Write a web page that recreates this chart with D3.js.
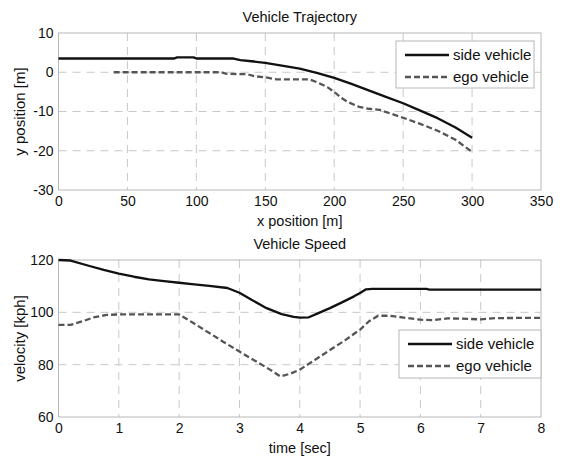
<!DOCTYPE html>
<html><head><meta charset="utf-8">
<script src="https://cdn.jsdelivr.net/npm/d3@7/dist/d3.min.js"></script>
<style>
body{margin:0;background:#fff;}
text{font-family:"Liberation Sans",Arial,sans-serif;fill:#111;}
</style></head>
<body><svg id="c" width="564" height="458"></svg>
<script>
// ---- Data: Vehicle Trajectory ----
const sideTrajX = [0, 84, 86, 98, 100, 127, 132, 140, 150, 162, 175, 188, 200, 212, 225, 237, 250, 262, 275, 288, 300];
const sideTrajY = [3.5, 3.5, 3.8, 3.8, 3.5, 3.5, 3.1, 2.8, 2.4, 1.7, 0.9, -0.2, -1.45, -2.9, -4.6, -6.2, -7.9, -9.7, -11.7, -14.1, -16.7];
const egoTrajX = [40, 118, 122, 137, 142, 150, 158, 182, 188, 195, 200, 205, 210, 218, 225, 233, 250, 262, 275, 288, 300];
const egoTrajY = [0, 0, -0.4, -0.5, -1.0, -1.3, -1.8, -1.8, -2.6, -3.8, -5.0, -6.5, -7.6, -8.8, -9.3, -9.6, -11.6, -13.1, -14.9, -17.2, -20.3];

// ---- Data: Vehicle Speed ----
const sideT = [0, 0.2, 0.5, 0.75, 1.0, 1.25, 1.5, 1.75, 2.0, 2.25, 2.5, 2.8, 3.0, 3.2, 3.45, 3.7, 3.9, 4.0, 4.15, 4.3, 4.5, 4.7, 4.9, 5.0, 5.1, 5.2, 6.1, 6.15, 8.0];
const sideV = [120, 119.8, 117.8, 116.2, 114.8, 113.6, 112.6, 111.9, 111.3, 110.7, 110.1, 109.3, 107.5, 104.8, 101.6, 99.3, 98.3, 98.0, 98.1, 99.6, 101.6, 103.8, 106.1, 107.4, 108.8, 109.0, 109.0, 108.7, 108.7];
const egoT = [0, 0.2, 0.4, 0.6, 0.8, 1.0, 1.5, 2.0, 2.25, 2.5, 2.75, 3.0, 3.25, 3.5, 3.68, 3.85, 4.0, 4.25, 4.5, 4.75, 5.0, 5.15, 5.3, 5.5, 5.75, 6.0, 6.2, 6.45, 6.8, 7.0, 7.25, 8.0];
const egoV = [95.2, 95.2, 96.6, 98.2, 99.0, 99.2, 99.2, 99.2, 95.7, 92.1, 88.5, 85.0, 81.6, 78.2, 75.5, 76.6, 78.1, 81.8, 85.6, 89.3, 93.4, 96.6, 98.7, 98.7, 97.9, 97.2, 97.0, 97.7, 97.5, 97.3, 97.8, 97.9];

// ---- Axis ticks / labels ----
const trajXTicks = [0, 50, 100, 150, 200, 250, 300, 350];
const trajYTicks = [10, 0, -10, -20, -30];
const speedXTicks = [0, 1, 2, 3, 4, 5, 6, 7, 8];
const speedYTicks = [120, 100, 80, 60];
const seriesNames = ["side vehicle", "ego vehicle"];

const svg = d3.select("#c");
const L = 58.5, R = 541;
const FONT = '"Liberation Sans",Arial,sans-serif';

function panel(opt){
  const x = d3.scaleLinear().domain(opt.xDomain).range([L, R]);
  const y = d3.scaleLinear().domain(opt.yDomain).range([opt.bottom, opt.top]);
  const g = svg.append("g");
  // grid
  g.selectAll(".gx").data(opt.xTicks.slice(1, -1)).join("line")
    .attr("x1", d => x(d)).attr("x2", d => x(d)).attr("y1", opt.top).attr("y2", opt.bottom)
    .attr("stroke", "#c8c8c8").attr("stroke-width", 1).attr("stroke-dasharray", "8,6");
  g.selectAll(".gy").data(opt.yTicks.filter(d => d !== opt.yDomain[0] && d !== opt.yDomain[1])).join("line")
    .attr("y1", d => y(d)).attr("y2", d => y(d)).attr("x1", L).attr("x2", R)
    .attr("stroke", "#c8c8c8").attr("stroke-width", 1).attr("stroke-dasharray", "8,6");
  // frame
  g.append("rect").attr("x", L).attr("y", opt.top).attr("width", R - L).attr("height", opt.bottom - opt.top)
    .attr("fill", "none").attr("stroke", "#b8b8b8").attr("stroke-width", 1);
  // axes labels via d3 axes
  const ax = d3.axisBottom(x).tickValues(opt.xTicks).tickSize(0).tickPadding(6).tickFormat(d => String(d));
  const axg = g.append("g").attr("transform", `translate(0,${opt.bottom})`).call(ax);
  axg.select(".domain").remove();
  axg.selectAll("text").attr("font-size", 14).style("font-family", FONT).attr("fill", "#111");
  const ay = d3.axisLeft(y).tickValues(opt.yTicks).tickSize(0).tickPadding(5).tickFormat(d => String(d));
  const ayg = g.append("g").attr("transform", `translate(${L},0)`).call(ay);
  ayg.select(".domain").remove();
  ayg.selectAll("text").attr("font-size", 14).style("font-family", FONT).attr("fill", "#111");
  // title & labels
  g.append("text").attr("x", (L + R) / 2).attr("y", opt.titleY).attr("text-anchor", "middle").attr("font-size", 14.5).text(opt.title);
  g.append("text").attr("x", (L + R) / 2).attr("y", opt.xLabelY).attr("text-anchor", "middle").attr("font-size", 14.5).text(opt.xLabel);
  g.append("text").attr("transform", `translate(25,${(opt.top + opt.bottom) / 2}) rotate(-90)`).attr("text-anchor", "middle").attr("font-size", 15).text(opt.yLabel);
  // lines
  const line = d3.line().x(d => x(d[0])).y(d => y(d[1]));
  g.append("path").datum(d3.zip(opt.sx, opt.sy)).attr("d", line).attr("fill", "none")
    .attr("stroke", "#111").attr("stroke-width", 2.3).attr("stroke-linejoin", "round");
  g.append("path").datum(d3.zip(opt.ex, opt.ey)).attr("d", line).attr("fill", "none")
    .attr("stroke", "#555").attr("stroke-width", 2.3).attr("stroke-dasharray", "6,3");
  // legend
  const lg = opt.legend;
  g.append("rect").attr("x", lg.x).attr("y", lg.y).attr("width", lg.w).attr("height", lg.h)
    .attr("fill", "#fff").attr("stroke", "#b8b8b8").attr("stroke-width", 1);
  seriesNames.forEach((name, i) => {
    const yy = lg.y + 14 + i * 22;
    g.append("line").attr("x1", lg.x + 9).attr("x2", lg.x + 53).attr("y1", yy).attr("y2", yy)
      .attr("stroke", i ? "#555" : "#111").attr("stroke-width", 2.3).attr("stroke-dasharray", i ? "6,3" : null);
    g.append("text").attr("x", lg.x + 57).attr("y", yy + 5).attr("font-size", 15).text(name);
  });
}

panel({xDomain: [0, 350], yDomain: [-30, 10], top: 33, bottom: 190,
  xTicks: trajXTicks, yTicks: trajYTicks,
  title: "Vehicle Trajectory", titleY: 22, xLabel: "x position [m]", xLabelY: 226, yLabel: "y position [m]",
  sx: sideTrajX, sy: sideTrajY, ex: egoTrajX, ey: egoTrajY,
  legend: {x: 396, y: 41, w: 138, h: 47}});

panel({xDomain: [0, 8], yDomain: [60, 120], top: 260, bottom: 417,
  xTicks: speedXTicks, yTicks: speedYTicks,
  title: "Vehicle Speed", titleY: 249, xLabelY: 453, xLabel: "time [sec]", yLabel: "velocity [kph]",
  sx: sideT, sy: sideV, ex: egoT, ey: egoV,
  legend: {x: 399, y: 330, w: 142, h: 48}});
</script></body></html>
